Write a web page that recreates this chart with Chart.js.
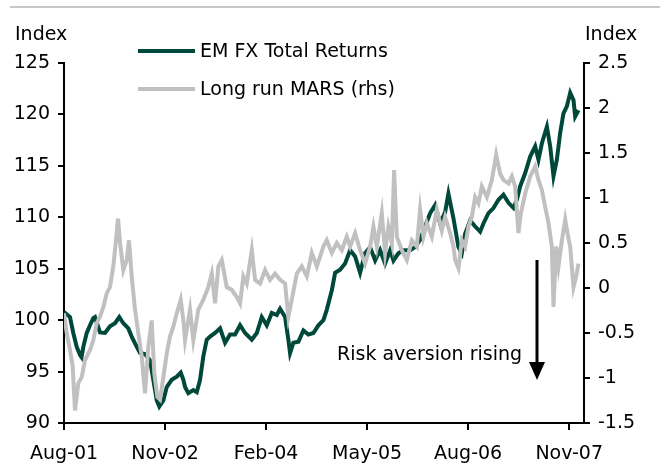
<!DOCTYPE html>
<html>
<head>
<meta charset="utf-8">
<script src="https://cdn.jsdelivr.net/npm/chart.js@4.4.1/dist/chart.umd.min.js"></script>
<style>
  body { margin: 0; background: #fff; }
</style>
</head>
<body>
<canvas id="emfx" width="660" height="463"></canvas>
<script>
// x values are months since Aug-01
const tickMonths = [0, 15, 30, 45, 60, 75];
const tickLabels = ["Aug-01", "Nov-02", "Feb-04", "May-05", "Aug-06", "Nov-07"];

// EM FX Total Returns (lhs)
const emMonths = [0, 0.89, 1.38, 1.89, 2.38, 2.6, 2.87, 3.37, 3.86, 4.35, 4.6, 5.35, 6.09, 6.83, 7.57, 8.21, 8.81, 9.55,
  10.05, 10.8, 11.29, 12.0, 12.77, 13.26, 13.77, 14.15, 14.75, 15.25, 15.99, 16.74, 17.33, 17.72, 17.97, 18.46, 19.2, 19.71,
  20.2, 20.69, 21.19, 21.68, 22.43, 23.17, 23.91, 24.65, 25.4, 26.14, 26.88, 27.88, 28.62, 29.36, 30.1, 30.85, 31.59, 32.08,
  32.82, 33.31, 33.56, 34.05, 34.8, 35.54, 36.28, 37.02, 37.77, 38.51, 39.01, 39.76, 40.25, 40.99, 41.73, 42.48, 43.22, 43.96,
  44.7, 45.45, 46.19, 46.93, 47.67, 48.42, 48.91, 49.65, 50.39, 51.39, 52.13, 52.87, 53.61, 54.36, 55.1, 55.84, 56.58, 57.07,
  57.82, 58.56, 59.06, 59.55, 60.3, 61.04, 61.78, 62.27, 63.01, 63.76, 64.5, 65.24, 65.99, 66.73, 67.23, 67.72, 68.47, 69.21,
  69.95, 70.44, 70.95, 71.69, 72.18, 72.67, 73.17, 73.66, 74.15, 74.66, 75.15, 75.64, 75.89, 76.38];
const emValues = [100.8, 100.3, 98.75, 97.4, 96.6, 96.4, 97.4, 98.75, 99.5, 100.2, 100.3, 98.8, 98.75, 99.4, 99.7, 100.3, 99.7, 99.2,
  98.4, 97.4, 96.8, 96.7, 96.1, 94.2, 92.2, 91.6, 92.2, 93.5, 94.2, 94.5, 94.9, 94.2, 93.5, 92.9, 93.2, 93.0,
  94.2, 96.5, 98.1, 98.4, 98.75, 99.2, 97.8, 98.6, 98.6, 99.5, 98.75, 98.1, 98.75, 100.3, 99.5, 100.7, 100.5, 101.1,
  100.3, 98.1, 96.8, 97.8, 97.9, 99.0, 98.6, 98.75, 99.5, 100.0, 101.0, 102.9, 104.6, 104.9, 105.5, 106.8, 106.2, 104.6,
  106.5, 107.1, 105.8, 106.8, 105.5, 106.8, 105.8, 106.5, 106.8, 106.8, 107.1, 107.8, 109.1, 110.4, 111.2, 109.4, 110.5, 112.3,
  109.9, 107.1, 106.5, 108.4, 109.7, 109.1, 108.6, 109.4, 110.4, 110.9, 111.7, 112.2, 111.4, 110.9, 111.7, 113.0, 114.3, 115.9,
  116.9, 115.6, 117.2, 118.8, 116.9, 114.0, 115.6, 118.2, 120.1, 120.8, 122.1, 121.4, 119.8, 120.4];

// Long run MARS (rhs)
const marsMonths = [0, 0.4, 0.89, 1.29, 1.63, 2.12, 2.63, 3.12, 3.86, 4.35, 4.86, 5.35, 5.84, 6.34, 6.83, 7.32, 7.72, 8.02,
  8.32, 8.81, 9.31, 9.65, 10.05, 10.54, 11.03, 11.54, 12.03, 12.52, 13.02, 13.41, 13.86, 14.26, 14.75, 15.25, 15.74, 16.23,
  16.74, 17.33, 17.72, 17.97, 18.71, 19.2, 19.94, 20.69, 21.43, 21.94, 22.43, 22.92, 23.42, 24.16, 24.91, 25.65, 26.14, 26.63,
  27.13, 27.88, 28.37, 29.11, 29.85, 30.59, 31.34, 32.08, 32.82, 33.31, 33.82, 34.56, 35.3, 36.05, 36.79, 37.53, 38.02, 38.51,
  39.01, 39.76, 40.5, 41.24, 41.98, 42.48, 43.22, 43.96, 44.7, 45.45, 45.94, 46.44, 47.18, 47.67, 48.16, 48.67, 49.01, 49.41,
  50.15, 50.9, 51.64, 52.38, 52.87, 53.36, 53.87, 54.61, 55.35, 56.09, 56.58, 57.33, 57.82, 58.07, 58.56, 59.06, 59.55, 60.04,
  60.55, 61.04, 61.53, 62.03, 62.78, 63.52, 64.16, 64.75, 65.24, 65.99, 66.49, 66.98, 67.47, 67.83, 68.47, 69.21, 69.95, 70.44,
  70.95, 71.44, 71.93, 72.43, 72.67, 73.07, 73.41, 73.92, 74.41, 74.75, 75.15, 75.64, 76.04, 76.38];
const marsValues = [-0.28, -0.5, -0.69, -0.87, -1.36, -1.06, -0.99, -0.8, -0.69, -0.58, -0.39, -0.32, -0.21, -0.06, 0.01, 0.24, 0.53, 0.77,
  0.5, 0.2, 0.31, 0.53, 0.13, -0.24, -0.5, -0.76, -1.17, -0.65, -0.36, -0.95, -1.21, -1.24, -0.99, -0.73, -0.54, -0.43,
  -0.28, -0.13, -0.36, -0.58, -0.24, -0.58, -0.24, -0.13, 0.01, 0.16, -0.17, 0.24, 0.31, 0.01, -0.02, -0.1, -0.17, 0.13,
  0.05, 0.42, 0.09, 0.05, 0.2, 0.09, 0.16, 0.09, 0.05, -0.32, -0.13, 0.16, 0.24, 0.13, 0.39, 0.24, 0.35, 0.46,
  0.53, 0.39, 0.5, 0.42, 0.57, 0.46, 0.61, 0.42, 0.27, 0.46, 0.68, 0.46, 0.83, 0.39, 0.68, 0.5, 1.31, 0.57,
  0.42, 0.31, 0.53, 0.46, 0.87, 0.57, 0.72, 0.57, 0.87, 0.64, 0.79, 0.61, 0.46, 0.31, 0.22, 0.53, 0.46, 0.68,
  0.79, 1.01, 0.94, 1.13, 1.01, 1.2, 1.48, 1.27, 1.2, 1.16, 1.24, 1.13, 0.61, 0.83, 1.05, 1.24, 1.35, 1.2,
  1.09, 0.9, 0.72, 0.46, -0.21, 0.46, 0.24, 0.53, 0.76, 0.61, 0.46, 0.01, 0.13, 0.27];

const GREEN = "#00493a";
const GREY = "#c0c0c0";
const FONT = "19px 'DejaVu Sans'";

function toPoints(xs, ys) {
  return xs.map((m, i) => ({ x: m, y: ys[i] }));
}

// titles, legend, annotation and the rule at the top
const extras = {
  id: "extras",
  afterDraw(chart) {
    const ctx = chart.ctx;
    ctx.save();
    ctx.strokeStyle = "#c8c8c8";
    ctx.lineWidth = 2;
    ctx.beginPath();
    ctx.moveTo(10, 7);
    ctx.lineTo(660, 7);
    ctx.stroke();

    ctx.font = FONT;
    ctx.fillStyle = "#000";
    ctx.textBaseline = "middle";
    ctx.textAlign = "left";
    ctx.fillText("Index", 15, 35);
    ctx.fillText("Index", 585, 35);

    // legend
    const items = [
      { label: "EM FX Total Returns", color: GREEN, y: 51 },
      { label: "Long run MARS (rhs)", color: GREY, y: 89 },
    ];
    items.forEach((it) => {
      ctx.strokeStyle = it.color;
      ctx.lineWidth = 4;
      ctx.beginPath();
      ctx.moveTo(138, it.y);
      ctx.lineTo(195, it.y);
      ctx.stroke();
      ctx.fillStyle = "#000";
      ctx.fillText(it.label, 200, it.y + 1);
    });

    // annotation
    ctx.fillText("Risk aversion rising", 337, 355);
    ctx.strokeStyle = "#000";
    ctx.lineWidth = 3;
    ctx.beginPath();
    ctx.moveTo(537, 260);
    ctx.lineTo(537, 364);
    ctx.stroke();
    ctx.beginPath();
    ctx.moveTo(529, 362);
    ctx.lineTo(545, 362);
    ctx.lineTo(537, 380);
    ctx.closePath();
    ctx.fill();
    ctx.restore();
  },
};

const axisGrid = { drawOnChartArea: false, color: "#000", lineWidth: 2 };

var ctx = document.getElementById("emfx");
var myChart = new Chart(ctx, {
  type: "line",
  data: {
    datasets: [
      {
        label: "EM FX Total Returns",
        data: toPoints(emMonths, emValues),
        yAxisID: "y",
        borderColor: GREEN,
        backgroundColor: GREEN,
        borderWidth: 4,
        pointRadius: 0,
        tension: 0,
        fill: false,
        order: 2,
      },
      {
        label: "Long run MARS (rhs)",
        data: toPoints(marsMonths, marsValues),
        yAxisID: "y2",
        borderColor: GREY,
        backgroundColor: GREY,
        borderWidth: 4,
        pointRadius: 0,
        tension: 0,
        fill: false,
        order: 1,
      },
    ],
  },
  options: {
    responsive: false,
    animation: false,
    layout: { padding: { top: 63, left: 0, right: 0, bottom: 0 } },
    plugins: { legend: { display: false }, tooltip: { enabled: false } },
    scales: {
      x: {
        type: "linear",
        position: "bottom",
        min: 0,
        max: 77.2,
        afterBuildTicks: (scale) => {
          scale.ticks = tickMonths.map((v) => ({ value: v }));
        },
        afterFit: (scale) => { scale.height = 40; },
        grid: Object.assign({ tickLength: 7 }, axisGrid),
        border: { color: "#000", width: 2 },
        ticks: {
          font: { family: "DejaVu Sans", size: 19 },
          color: "#000",
          padding: 13,
          maxRotation: 0,
          autoSkip: false,
          callback: (v) => tickLabels[tickMonths.indexOf(v)],
        },
      },
      y: {
        position: "left",
        min: 90,
        max: 125,
        afterFit: (scale) => { scale.width = 64; },
        grid: Object.assign({ tickLength: 6 }, axisGrid),
        border: { color: "#000", width: 2 },
        ticks: {
          stepSize: 5,
          font: { family: "DejaVu Sans", size: 19 },
          color: "#000",
          padding: 8,
        },
      },
      y2: {
        position: "right",
        min: -1.5,
        max: 2.5,
        afterFit: (scale) => { scale.width = 76; },
        grid: Object.assign({ tickLength: 6 }, axisGrid),
        border: { color: "#000", width: 2 },
        ticks: {
          stepSize: 0.5,
          font: { family: "DejaVu Sans", size: 19 },
          color: "#000",
          padding: 8,
          callback: (v) => String(Math.round(v * 10) / 10),
        },
      },
    },
  },
  plugins: [extras],
});
</script>
</body>
</html>
